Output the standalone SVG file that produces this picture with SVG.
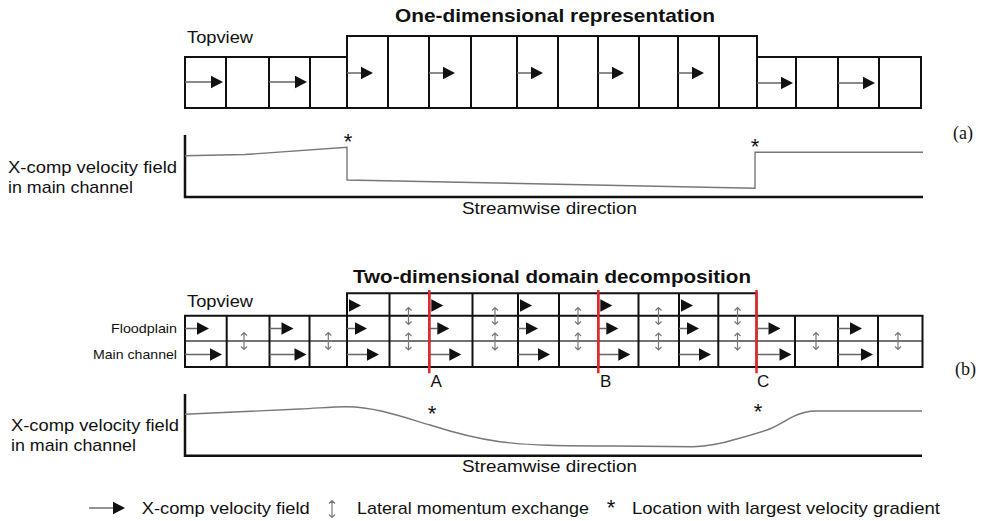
<svg xmlns="http://www.w3.org/2000/svg" xmlns:xlink="http://www.w3.org/1999/xlink" width="992" height="521" viewBox="0 0 992 521">
<style>
text{font-family:"Liberation Sans",Arial,sans-serif;fill:#111}
.title{font-weight:bold;font-size:19px}
.lbl{font-size:17px}
.small{font-size:13.5px}
.ast{font-size:22px}
.serif{font-family:"Liberation Serif","Times New Roman",serif;font-size:18px}
.cell{fill:none;stroke:#111;stroke-width:2}
.thin{fill:none;stroke:#444;stroke-width:1.3}
.shaft{stroke:#666;stroke-width:1.4;fill:none}
.ud{fill:none;stroke:#777;stroke-width:1.2}
.axis{fill:none;stroke:#111;stroke-width:2.5}
.curve{fill:none;stroke:#777;stroke-width:1.4}
.red{stroke:#e8262b;stroke-width:2.5}
</style>
<defs>
<path id="ah" d="M0,-6.3 L12,0 L0,6.3 Z" fill="#111"/>
<path id="udu" d="M0,-8.5 V8.5 M-3,-5.5 L0,-8.5 L3,-5.5 M-3,5.5 L0,8.5 L3,5.5"/>
</defs>

<!-- (a) one-dimensional -->
<g id="title-a"><text class="title" x="395" y="22" textLength="320" lengthAdjust="spacingAndGlyphs">One-dimensional representation</text></g>
<g id="topview-a"><text class="lbl" x="187" y="43" textLength="66" lengthAdjust="spacingAndGlyphs">Topview</text></g>
<g id="grid-a">
<path class="cell" d="M185,57 H347 V36 H757 V57 H921 V108 H185 Z"/>
<path class="cell" d="M226,57 V108 M269,57 V108 M310,57 V108 M347,57 V108 M388,36 V108 M429,36 V108 M471,36 V108 M517,36 V108 M558,36 V108 M598,36 V108 M639,36 V108 M678,36 V108 M719,36 V108 M757,57 V108 M796,57 V108 M838,57 V108 M879,57 V108"/>
<path class="shaft" d="M185,82 H211 M269,82 H295 M347,73 H361 M429,73 H443 M517,73 H531 M598,73 H612 M678,73 H692 M757,83 H781 M838,83 H863"/>
<use xlink:href="#ah" x="211" y="82"/><use xlink:href="#ah" x="295" y="82"/>
<use xlink:href="#ah" x="361" y="73"/><use xlink:href="#ah" x="443" y="73"/><use xlink:href="#ah" x="531" y="73"/><use xlink:href="#ah" x="612" y="73"/><use xlink:href="#ah" x="692" y="73"/>
<use xlink:href="#ah" x="781" y="83"/><use xlink:href="#ah" x="863" y="83"/>
</g>
<g id="plot-a">
<text class="lbl" x="8" y="173" textLength="169" lengthAdjust="spacingAndGlyphs">X-comp velocity field</text>
<text class="lbl" x="8" y="193" textLength="125" lengthAdjust="spacingAndGlyphs">in main channel</text>
<path class="axis" d="M185,135 V197 H923"/>
<path class="curve" d="M185,155.7 L245,154.5 L347,147.3 V180 L755,188.3 V152.3 H923"/>
<text class="ast" x="348" y="149" text-anchor="middle">*</text>
<text class="ast" x="755" y="154" text-anchor="middle">*</text>
<text class="lbl" x="462" y="214" textLength="175" lengthAdjust="spacingAndGlyphs">Streamwise direction</text>
</g>
<g id="label-a"><text class="serif" x="953" y="139">(a)</text></g>

<!-- (b) two-dimensional -->
<g id="title-b"><text class="title" x="353" y="283" textLength="398" lengthAdjust="spacingAndGlyphs">Two-dimensional domain decomposition</text></g>
<g id="topview-b"><text class="lbl" x="187" y="307" textLength="66" lengthAdjust="spacingAndGlyphs">Topview</text></g>
<g id="row-labels">
<text class="small" x="177" y="333" text-anchor="end" textLength="66" lengthAdjust="spacingAndGlyphs">Floodplain</text>
<text class="small" x="177" y="359" text-anchor="end" textLength="84" lengthAdjust="spacingAndGlyphs">Main channel</text>
</g>
<g id="grid-b">
<path class="thin" d="M185,341 H922.5"/>
<path class="cell" d="M185,315.7 H347 V293.3 H756.5 V315.7 H922.5 V367 H185 Z"/>
<path class="cell" d="M347,315.7 H756.5 M226.7,315.7 V367 M269.5,315.7 V367 M309.5,315.7 V367 M347,315.7 V367 M389.5,293.3 V367 M429.3,293.3 V367 M472.5,293.3 V367 M518,293.3 V367 M559,293.3 V367 M598.3,293.3 V367 M638.5,293.3 V367 M679,293.3 V367 M718.3,293.3 V367 M756.5,315.7 V367 M795,315.7 V367 M838,315.7 V367 M878,315.7 V367"/>
<path class="shaft" d="M185,328.5 H197 M185,354.5 H210 M269.5,328.5 H281.5 M269.5,354.5 H294.5 M756.5,328.5 H768.5 M756.5,354.5 H779.5 M838,328.5 H850 M838,354.5 H861 M347,328.5 H355 M347,354.5 H367 M429.3,328.5 H437.3 M429.3,354.5 H449.3 M518,328.5 H526 M518,354.5 H538 M598.3,328.5 H606.3 M598.3,354.5 H618.3 M679,328.5 H687 M679,354.5 H699"/>
<use xlink:href="#ah" x="197" y="328.5"/><use xlink:href="#ah" x="210" y="354.5"/>
<use xlink:href="#ah" x="281.5" y="328.5"/><use xlink:href="#ah" x="294.5" y="354.5"/>
<use xlink:href="#ah" x="768.5" y="328.5"/><use xlink:href="#ah" x="779.5" y="354.5"/>
<use xlink:href="#ah" x="850" y="328.5"/><use xlink:href="#ah" x="861" y="354.5"/>
<use xlink:href="#ah" x="349" y="305.5"/><use xlink:href="#ah" x="355" y="328.5"/><use xlink:href="#ah" x="367" y="354.5"/>
<use xlink:href="#ah" x="431.3" y="305.5"/><use xlink:href="#ah" x="437.3" y="328.5"/><use xlink:href="#ah" x="449.3" y="354.5"/>
<use xlink:href="#ah" x="520" y="305.5"/><use xlink:href="#ah" x="526" y="328.5"/><use xlink:href="#ah" x="538" y="354.5"/>
<use xlink:href="#ah" x="600.3" y="305.5"/><use xlink:href="#ah" x="606.3" y="328.5"/><use xlink:href="#ah" x="618.3" y="354.5"/>
<use xlink:href="#ah" x="681" y="305.5"/><use xlink:href="#ah" x="687" y="328.5"/><use xlink:href="#ah" x="699" y="354.5"/>
<g class="ud">
<use xlink:href="#udu" x="244" y="341"/><use xlink:href="#udu" x="328.3" y="341"/>
<use xlink:href="#udu" x="816" y="341"/><use xlink:href="#udu" x="898" y="341"/>
<use xlink:href="#udu" x="408.5" y="316"/><use xlink:href="#udu" x="408.5" y="341.5"/>
<use xlink:href="#udu" x="495" y="316"/><use xlink:href="#udu" x="495" y="341.5"/>
<use xlink:href="#udu" x="578" y="316"/><use xlink:href="#udu" x="578" y="341.5"/>
<use xlink:href="#udu" x="658.5" y="316"/><use xlink:href="#udu" x="658.5" y="341.5"/>
<use xlink:href="#udu" x="737.5" y="316"/><use xlink:href="#udu" x="737.5" y="341.5"/>
</g>
</g>
<g id="sections">
<path class="red" d="M429.3,290 V373.3 M598.3,290 V373.3 M756.5,290 V373.3"/>
<text class="lbl" x="430.5" y="386.5" font-size="16">A</text>
<text class="lbl" x="600" y="386.5" font-size="16">B</text>
<text class="lbl" x="757" y="386.5" font-size="16">C</text>
</g>
<g id="plot-b">
<text class="lbl" x="11" y="431" textLength="168" lengthAdjust="spacingAndGlyphs">X-comp velocity field</text>
<text class="lbl" x="11" y="451" textLength="125" lengthAdjust="spacingAndGlyphs">in main channel</text>
<path class="axis" d="M185,394 V455.7 H922"/>
<path class="curve" d="M185,414.3 L300,409 C320,408 335,406.5 347,406.7 C375,407 400,416 430,425 C455,433 475,438.5 500,441.7 C530,445.5 560,446 617,446 L693,446.7 C710,446 722,443.5 733,440 C748,436 758,433 767,430 C778,426 786,420 793,416.7 C800,413 806,411 817,411 L922,411"/>
<text class="ast" x="432" y="421" text-anchor="middle">*</text>
<text class="ast" x="758" y="419" text-anchor="middle">*</text>
<text class="lbl" x="462" y="472" textLength="175" lengthAdjust="spacingAndGlyphs">Streamwise direction</text>
</g>
<g id="label-b"><text class="serif" x="955" y="375">(b)</text></g>

<!-- legend -->
<g id="legend">
<path class="shaft" d="M89,508 H113"/>
<use xlink:href="#ah" x="113" y="508"/>
<text class="lbl" x="141.7" y="514" textLength="168" lengthAdjust="spacingAndGlyphs">X-comp velocity field</text>
<use xlink:href="#udu" class="ud" x="332" y="509"/>
<text class="lbl" x="357" y="514" textLength="232" lengthAdjust="spacingAndGlyphs">Lateral momentum exchange</text>
<text class="ast" x="611" y="515" text-anchor="middle">*</text>
<text class="lbl" x="632" y="514" textLength="308" lengthAdjust="spacingAndGlyphs">Location with largest velocity gradient</text>
</g>
</svg>
